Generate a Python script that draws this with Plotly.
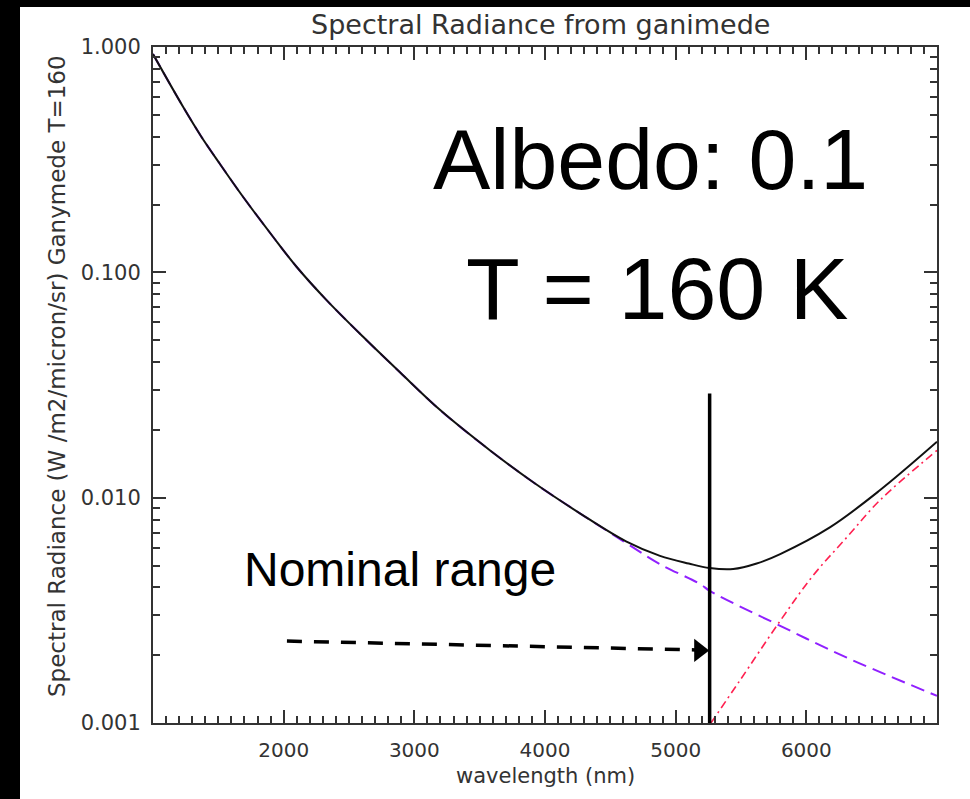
import plotly.graph_objects as go

# ---------------- data ----------------
reflected_wl = [1000, 1230, 1370, 1510, 1690, 1920, 2100, 2330, 2610, 2890, 3200,
                3580, 3910, 4270, 4620, 4880, 5190, 5260, 5800, 6310, 7000]
reflected_val = [0.93, 0.543, 0.40, 0.304, 0.216, 0.1435, 0.1056, 0.0751, 0.0516, 0.036, 0.0244,
                 0.0162, 0.0117, 0.0085, 0.0063, 0.00507, 0.00413, 0.00386, 0.0027, 0.00195, 0.00132]

thermal_wl = [5270, 5490, 5800, 6050, 6310, 6560, 7000]
thermal_val = [0.00100, 0.00154, 0.00284, 0.00450, 0.00667, 0.0097, 0.0162]

total_wl = [1000, 1230, 1370, 1510, 1690, 1920, 2100, 2330, 2610, 2890, 3200,
            3580, 3910, 4270, 4620, 4880, 5100, 5260, 5440, 5620, 5800, 6180, 6560, 7000]
total_val = [0.93, 0.543, 0.40, 0.304, 0.216, 0.1435, 0.1056, 0.0751, 0.0516, 0.036, 0.0244,
             0.0162, 0.0117, 0.0085, 0.0064, 0.00552, 0.0051, 0.00487, 0.00482, 0.0051, 0.00562,
             0.00738, 0.01075, 0.0177]

range_edge_wl = [5260, 5260]
range_edge_val = [0.001, 0.029]

arrow_wl = [2025, 5150]
arrow_val = [0.00231, 0.00211]
arrow_head_wl = [5180]
arrow_head_val = [0.00210]

x_tickvals = [2000, 3000, 4000, 5000, 6000]
x_ticktext = ["2000", "3000", "4000", "5000", "6000"]
y_tickvals = [0.001, 0.01, 0.1, 1.0]
y_ticktext = ["0.001", "0.010", "0.100", "1.000"]

# ---------------- layout geometry ----------------
PAGE_LEFT, PAGE_TOP = 20, 7          # black page border (left / top)
W, H = 970 - PAGE_LEFT, 799 - PAGE_TOP
L, R, T, B = 153 - PAGE_LEFT, 937 - PAGE_LEFT, 47 - PAGE_TOP, 723 - PAGE_TOP


def px(xp):
    return (xp - PAGE_LEFT - L) / (R - L)


def py(yp):
    return (B - (yp - PAGE_TOP)) / (B - T)


fig = go.Figure()

fig.add_trace(go.Scatter(x=reflected_wl, y=reflected_val, mode="lines", line_shape="spline",
                         line=dict(color="#9020FF", width=2, dash="14px,7px"),
                         showlegend=False, hoverinfo="skip"))
fig.add_trace(go.Scatter(x=thermal_wl, y=thermal_val, mode="lines", line_shape="spline",
                         line=dict(color="#FF2050", width=1.6, dash="8px,4px,2px,4px"),
                         showlegend=False, hoverinfo="skip"))
fig.add_trace(go.Scatter(x=total_wl, y=total_val, mode="lines", line_shape="spline",
                         line=dict(color="#111111", width=2),
                         showlegend=False, hoverinfo="skip"))
fig.add_trace(go.Scatter(x=range_edge_wl, y=range_edge_val, mode="lines",
                         line=dict(color="black", width=3.5),
                         showlegend=False, hoverinfo="skip"))
fig.add_trace(go.Scatter(x=arrow_wl, y=arrow_val, mode="lines",
                         line=dict(color="black", width=3.5, dash="15px,12px"),
                         showlegend=False, hoverinfo="skip"))
fig.add_trace(go.Scatter(x=arrow_head_wl, y=arrow_head_val, mode="markers",
                         marker=dict(symbol="triangle-right", size=20, color="black"),
                         showlegend=False, hoverinfo="skip", cliponaxis=False))

axis_color = "#333333"
tick_font = dict(family="DejaVu Sans", size=20, color="#333333")

fig.update_xaxes(range=[1000, 7000], showgrid=False, zeroline=False,
                 showline=True, linecolor=axis_color, linewidth=2, mirror="ticks",
                 ticks="inside", ticklen=13, tickwidth=2, tickcolor=axis_color,
                 tickmode="array", tickvals=x_tickvals, ticktext=x_ticktext,
                 tickfont=tick_font, ticklabelstandoff=8,
                 minor=dict(tick0=1000, dtick=100, ticks="inside", ticklen=7,
                            tickwidth=2, tickcolor=axis_color, showgrid=False))
fig.update_yaxes(type="log", range=[-3, 0], showgrid=False, zeroline=False,
                 showline=True, linecolor=axis_color, linewidth=2, mirror="ticks",
                 ticks="inside", ticklen=13, tickwidth=2, tickcolor=axis_color,
                 tickmode="array", tickvals=y_tickvals, ticktext=y_ticktext,
                 tickfont=dict(family="DejaVu Sans", size=21, color="#333333"),
                 ticklabelstandoff=6,
                 minor=dict(dtick="D1", ticks="inside", ticklen=7,
                            tickwidth=2, tickcolor=axis_color, showgrid=False))

label_font = dict(family="DejaVu Sans", size=21, color="#333333")
big_font = dict(family="Liberation Sans", size=86, color="black")

annotations = [
    dict(text="Spectral Radiance from ganimede", x=px(540), y=py(25),
         font=dict(family="DejaVu Sans", size=27, color="#333333")),
    dict(text="wavelength (nm)", x=px(545), y=py(776), font=label_font),
    dict(text="Spectral Radiance (W /m2/micron/sr) Ganymede T=160", x=px(57), y=py(376),
         textangle=-90, font=dict(family="DejaVu Sans", size=23, color="#333333")),
    dict(text="Albedo: 0.1", x=px(650), y=py(159), font=big_font),
    dict(text="T = 160 K", x=px(657), y=py(288), font=dict(family="Liberation Sans", size=88, color="black")),
    dict(text="Nominal range", x=px(400), y=py(569),
         font=dict(family="Liberation Sans", size=48, color="black")),
]
for a in annotations:
    a.update(xref="paper", yref="paper", showarrow=False,
             xanchor="center", yanchor="middle")
fig.update_layout(annotations=annotations)

fig.update_layout(width=W, height=H, paper_bgcolor="white", plot_bgcolor="white",
                  margin=dict(l=L, r=W - R, t=T, b=H - B, pad=0),
                  showlegend=False)

page_css = (
    "document.documentElement.style.background='black';"
    "document.body.style.margin='0';"
    "document.body.style.background='black';"
    "document.body.style.overflow='hidden';"
    "var gd=document.getElementById('{plot_id}');"
    "gd.style.marginLeft='%dpx';gd.style.marginTop='%dpx';" % (PAGE_LEFT, PAGE_TOP)
)

fig.write_html("out.html", post_script=page_css)
